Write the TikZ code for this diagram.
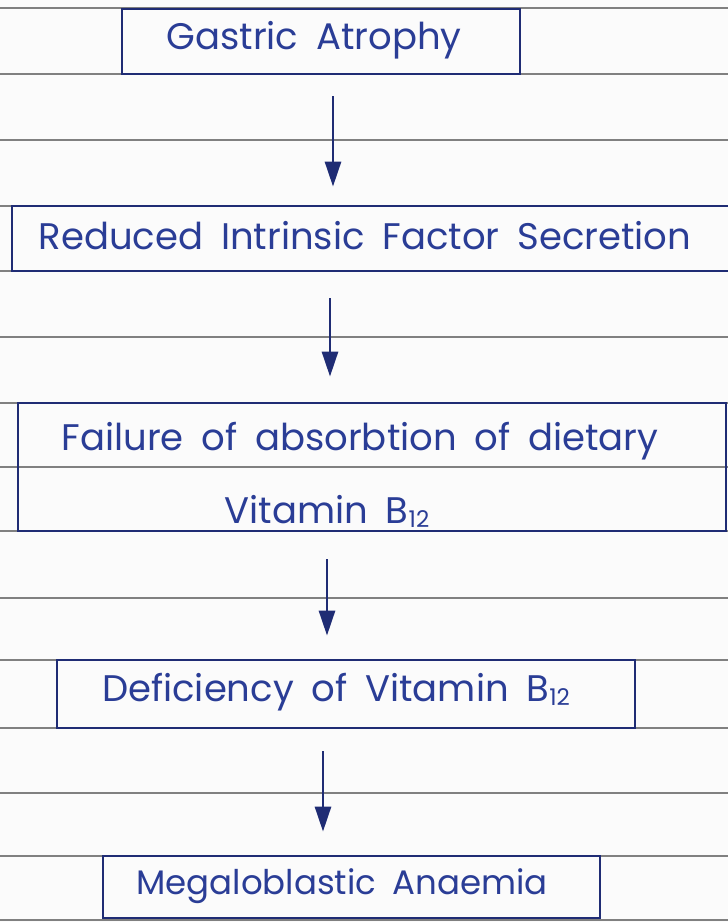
\documentclass[tikz,border=0pt]{standalone}
\usepackage{fontspec}
\setmainfont{Poppins}[WordSpace=1.8]
\usetikzlibrary{arrows.meta}
\definecolor{ink}{HTML}{1F2C74}
\definecolor{txt}{HTML}{2A3D96}
\definecolor{rulegrey}{HTML}{808080}
\definecolor{paper}{HTML}{FBFBFB}
\newcommand\subtw[1]{\raisebox{-4pt}{\fontsize{23}{23}\selectfont #1}}
\begin{document}
\begin{tikzpicture}[x=1pt,y=-1pt,
  box/.style={draw=ink,line width=2.8pt,inner sep=0pt},
  lbl/.style={text=txt,font=\fontsize{37}{44}\selectfont,inner sep=0pt,align=center},
  arr/.style={draw=ink,line width=2.8pt,-{Triangle[width=16pt,length=25pt]}},
  ruling/.style={draw=rulegrey,line width=1.5pt}]
\fill[paper] (0,0) rectangle (728,922);
\useasboundingbox (0,0) rectangle (728,922);
\foreach \y in {8,74,140,206,271,337,403,467,531,598,660,728,793,856,920}
  \draw[ruling] (0,\y) -- (728,\y);
% boxes
\node[box,minimum width=398pt,minimum height=65pt] (b1) at (321,41.5) {};
\node[box,minimum width=728pt,minimum height=65pt] (b2) at (376,238.5) {};
\node[box,minimum width=708pt,minimum height=128pt] (b3) at (372,467) {};
\node[box,minimum width=578pt,minimum height=68pt] (b4) at (346,694) {};
\node[box,minimum width=497pt,minimum height=62pt] (b5) at (351.5,887) {};
% texts
\node[lbl] (t1) at (314,40) {Gastric Atrophy};
\node[lbl] (t2) at (365,236) {Reduced Intrinsic Factor Secretion};
\node[lbl] (t3a) at (360,441) {Failure of absorbtion of dietary};
\node[lbl] (t3b) at (327,511) {Vitamin B\subtw{12}};
\node[lbl] (t4) at (336,692) {Deficiency of Vitamin B\subtw{12}};
\node[lbl,font=\fontsize{34}{40}\selectfont] (t5) at (342,886) {Megaloblastic Anaemia};
% arrows
\coordinate (x1) at (333,0);
\coordinate (x2) at (330,0);
\coordinate (x3) at (327,0);
\coordinate (x4) at (323,0);
\draw[arr,shorten <=21pt,shorten >=18pt] (b1.south -| x1) -- (b2.north -| x1);
\draw[arr,shorten <=26pt,shorten >=25pt] (b2.south -| x2) -- (b3.north -| x2);
\draw[arr,shorten <=27pt,shorten >=23pt] (b3.south -| x3) -- (b4.north -| x3);
\draw[arr,shorten <=22pt,shorten >=23pt] (b4.south -| x4) -- (b5.north -| x4);
\end{tikzpicture}
\end{document}
